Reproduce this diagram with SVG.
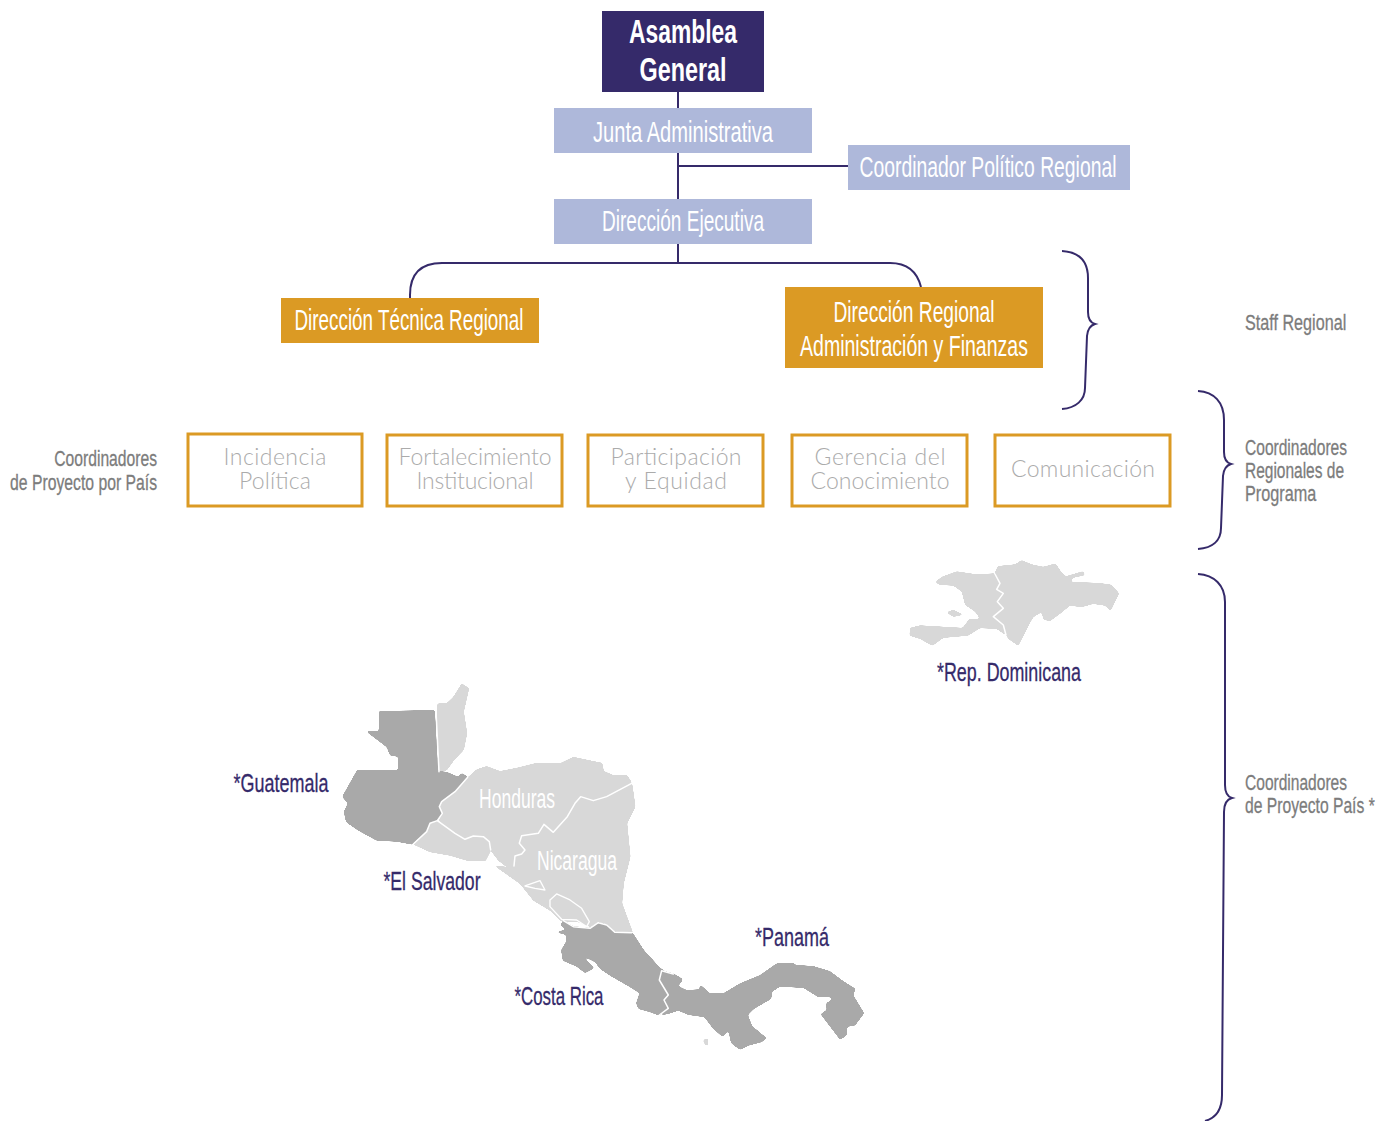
<svg xmlns="http://www.w3.org/2000/svg" width="1389" height="1121" viewBox="0 0 1389 1121">
<style>
text{font-family:"Liberation Sans",Arial,sans-serif;text-anchor:middle}
.con{fill:none;stroke:#352a6a;stroke-width:2}
.w{fill:#fff;font-size:30px}
.b{font-weight:700;font-size:33px}
.m{font-size:27px}
.g{fill:#7c7c7c;stroke:#7c7c7c;stroke-width:.3;font-size:22px}
.l{text-anchor:start}
.e{text-anchor:end}
.c{fill:#352a6a;stroke:#352a6a;stroke-width:.3;font-size:26px}
.p{fill:#ababab;font-size:23px;font-weight:300;font-family:Lato,sans-serif}
.box{fill:#fff;stroke:#db9a24;stroke-width:3}
.dk{filter:url(#fd)}
.lt{filter:url(#fl)}
.lake{fill:#d8d8d8;stroke:#fff;stroke-width:4;stroke-linejoin:round}
.line{fill:none;stroke:#fff;stroke-width:4.5;stroke-linejoin:round;stroke-linecap:round}
</style>
<defs>
<filter id="fd" x="-5%" y="-5%" width="110%" height="110%" color-interpolation-filters="sRGB"><feGaussianBlur in="SourceAlpha" stdDeviation="3"/><feComponentTransfer result="a"><feFuncA type="linear" slope="12" intercept="-5.5"/></feComponentTransfer><feFlood flood-color="#a9a9a9"/><feComposite in2="a" operator="in"/></filter>
<filter id="fl" x="-5%" y="-5%" width="110%" height="110%" color-interpolation-filters="sRGB"><feGaussianBlur in="SourceAlpha" stdDeviation="3"/><feComponentTransfer result="a"><feFuncA type="linear" slope="12" intercept="-5.5"/></feComponentTransfer><feFlood flood-color="#d8d8d8"/><feComposite in2="a" operator="in"/></filter>
</defs>
<g id="connectors" class="con">
<path d="M678 92V263M678 166H848"/>
<path d="M410 298V295Q410 263 442 263H890Q915 263 921 287"/>
<path d="M1062 251C1078 252 1088 260 1088 278V312Q1088 322 1095 324Q1088 326 1087 336L1085 388C1085 400 1076 408 1062 409"/>
<path d="M1198 391C1214 392 1224 402 1224 420V452Q1224 462 1231 464Q1224 466 1223 476L1221 528C1221 541 1212 548 1198 549"/>
<path d="M1198 574C1214 575 1225 585 1225 602V785Q1225 796 1232 798Q1224 800 1224 812L1222 1095C1222 1110 1216 1118 1205 1121"/>
</g>
<g id="asamblea"><rect x="602" y="11" width="162" height="81" fill="#352a6a"/>
<text x="683" y="43" class="w b" textLength="108" lengthAdjust="spacingAndGlyphs">Asamblea</text>
<text x="683" y="81" class="w b" textLength="87" lengthAdjust="spacingAndGlyphs">General</text></g>
<g id="junta"><rect x="554" y="108" width="258" height="45" fill="#aeb8da"/>
<text x="683" y="142" class="w" textLength="180" lengthAdjust="spacingAndGlyphs">Junta Administrativa</text></g>
<g id="coordinador"><rect x="848" y="145" width="282" height="45" fill="#aeb8da"/>
<text x="988" y="177" class="w" textLength="257" lengthAdjust="spacingAndGlyphs">Coordinador Político Regional</text></g>
<g id="direccion-ejecutiva"><rect x="554" y="199" width="258" height="45" fill="#aeb8da"/>
<text x="683" y="231" class="w" textLength="162" lengthAdjust="spacingAndGlyphs">Dirección Ejecutiva</text></g>
<g id="direccion-tecnica"><rect x="281" y="298" width="258" height="45" fill="#db9a24"/>
<text x="409" y="330" class="w" textLength="229" lengthAdjust="spacingAndGlyphs">Dirección Técnica Regional</text></g>
<g id="direccion-regional"><rect x="785" y="287" width="258" height="81" fill="#db9a24"/>
<text x="914" y="322" class="w" textLength="161" lengthAdjust="spacingAndGlyphs">Dirección Regional</text>
<text x="914" y="356" class="w" textLength="228" lengthAdjust="spacingAndGlyphs">Administración y Finanzas</text></g>
<g id="incidencia"><rect x="188" y="434" width="174" height="72" class="box"/>
<text x="275" y="465" class="p" textLength="103">Incidencia</text><text x="275" y="489" class="p" textLength="72">Política</text></g>
<g id="fortalecimiento"><rect x="387" y="435" width="175" height="71" class="box"/>
<text x="475" y="465" class="p" textLength="153">Fortalecimiento</text><text x="475" y="489" class="p" textLength="117">Institucional</text></g>
<g id="participacion"><rect x="588" y="435" width="175" height="71" class="box"/>
<text x="676" y="465" class="p" textLength="131">Participación</text><text x="676" y="489" class="p" textLength="102">y Equidad</text></g>
<g id="gerencia"><rect x="792" y="435" width="175" height="71" class="box"/>
<text x="880" y="465" class="p" textLength="131">Gerencia del</text><text x="880" y="489" class="p" textLength="139">Conocimiento</text></g>
<g id="comunicacion"><rect x="995" y="435" width="175" height="71" class="box"/>
<text x="1083" y="477" class="p" textLength="144">Comunicación</text></g>
<g id="labels">
<text transform="translate(1245 330) scale(.75 1)" class="g l" textLength="135" lengthAdjust="spacingAndGlyphs">Staff Regional</text>
<text transform="translate(1245 455) scale(.75 1)" class="g l" textLength="136" lengthAdjust="spacingAndGlyphs">Coordinadores</text>
<text transform="translate(1245 478) scale(.75 1)" class="g l" textLength="132" lengthAdjust="spacingAndGlyphs">Regionales de</text>
<text transform="translate(1245 501) scale(.75 1)" class="g l" textLength="95" lengthAdjust="spacingAndGlyphs">Programa</text>
<text transform="translate(1245 790) scale(.75 1)" class="g l" textLength="136" lengthAdjust="spacingAndGlyphs">Coordinadores</text>
<text transform="translate(1245 813) scale(.75 1)" class="g l" textLength="173" lengthAdjust="spacingAndGlyphs">de Proyecto País *</text>
<text transform="translate(157 466) scale(.75 1)" class="g e" textLength="137" lengthAdjust="spacingAndGlyphs">Coordinadores</text>
<text transform="translate(157 490) scale(.75 1)" class="g e" textLength="196" lengthAdjust="spacingAndGlyphs">de Proyecto por País</text>
</g>
<g id="map-dominicana" transform="translate(900 550) scale(.3333)">
<path class="lt" d="M105 97L125 80L170 64L230 73L285 70L300 100L290 118L310 130L292 155L310 175L280 200L310 225L320 258L290 237L240 235L205 257L130 264L97 288L60 267L28 257L30 233L60 226L188 233L208 206L240 206L225 185L195 165L185 125L160 107L120 105Z"/>
<path class="lt" d="M138 187L160 179L192 194L160 201Z"/>
<path class="lt" d="M283 72L293 48L345 43L365 30L395 43L430 50L467 40L482 63L497 79L550 63L556 76L518 84L512 95L590 98L632 103L658 130L632 184L615 167L580 162L545 172L510 167L480 192L450 214L430 209L425 187L400 202L387 225L355 288L325 267L318 255L310 225L280 200L310 175L292 155L310 130L290 118L300 100Z"/>
<path class="line" d="M285 72L300 100L290 118L310 130L292 155L310 175L280 200L310 225L318 255"/>
</g>
<g id="map-centro" transform="translate(330 670) scale(.3333)">
<path class="lt" d="M322 100L350 100L370 80L395 40L418 55L402 125L412 190L402 240L375 268L350 302L325 305L320 125Z"/>
<path class="dk" d="M146 123L315 120L325 303L350 305L385 320L395 308L416 322L375 365L335 395L328 410L337 430L322 452L300 460L290 485L248 524L200 515L140 512L85 482L48 457L41 425L53 400L36 380L81 300L204 300L204 260L180 257L170 232L106 183L146 183Z"/>
<path class="lt" d="M413 322L440 298L470 288L510 303L560 293L620 278L690 280L730 260L790 273L817 278L822 303L850 315L892 315L907 340L830 380L790 392L752 380L735 400L712 440L670 487L642 463L625 490L575 497L568 520L585 540L575 552L555 558L552 590L530 592L505 572L482 542L478 515L460 500L430 498L405 508L375 490L325 452L337 430L328 410L335 395L375 365Z"/>
<path class="lt" d="M246 522L290 485L300 460L322 452L375 490L405 508L430 498L460 500L478 515L484 540L467 574L410 572L360 557L300 547Z"/>
<path class="lt" d="M907 340L917 410L892 460L902 560L882 640L877 700L910 790L860 790L810 763L780 771L740 755L695 755L660 722L610 692L570 642L490 586L530 590L552 588L555 558L575 552L585 540L568 520L575 497L625 490L642 463L670 487L712 440L735 400L752 380L790 392L830 380Z"/>
<path class="lake" d="M585 648L630 632L645 660L615 655Z"/>
<path class="lake" d="M660 690L680 672L720 690L755 715L778 755L770 770L740 750L695 748L660 710Z"/>
<path class="line" d="M250 522L290 485L300 460L322 452L337 430L328 410L335 395L375 365L413 322"/>
<path class="line" d="M322 452L375 490L405 508L430 498L460 500L478 515L482 540"/>
<path class="line" d="M905 340L830 380L790 392L752 380L735 400L712 440L670 487L642 463L625 490L575 497L568 520L585 540L575 552L555 558L552 588"/>
<path class="line" d="M318 122L327 305"/>
</g>
<g id="map-sur" transform="translate(540 900) scale(.3333)">
<path class="dk" d="M70 60L100 78L150 83L175 66L200 73L225 95L277 96L312 150L362 205L402 222L365 212L358 240L385 285L372 300L385 325L358 347L330 337L295 327L288 310L298 280L270 262L210 227L180 207L165 187L128 168L164 205L135 220L110 200L68 182L63 150L78 125L78 105L47 97L78 88L60 76Z"/>
<path class="dk" d="M365 210L400 220L430 238L415 258L440 270L478 268L480 253L510 280L550 280L600 250L660 225L710 190L762 188L765 194L820 198L870 213L910 243L947 266L940 285L973 340L945 377L922 380L920 407L900 419L841 342L860 330L858 310L878 297L865 290L835 292L790 264L720 260L697 275L694 297L642 327L624 345L637 378L681 415L665 427L625 437L600 450L573 430L565 392L548 412L518 385L493 352L445 345L415 332L385 342L358 347L385 325L372 300L385 285L358 240Z"/>
<path class="line" d="M400 222L365 212L358 240L385 285L372 300L385 325L358 345"/>
<path class="line" d="M70 62L100 80L150 85L175 68L200 75L225 97L275 98"/>
<path class="lt" d="M488 420L507 413L502 428L510 440L495 434Z"/>
</g>
<g id="map-labels">
<text x="517" y="808" class="w m" textLength="76" lengthAdjust="spacingAndGlyphs">Honduras</text>
<text x="577" y="870" class="w m" textLength="80" lengthAdjust="spacingAndGlyphs">Nicaragua</text>
<text x="281" y="792" class="c" textLength="95" lengthAdjust="spacingAndGlyphs">*Guatemala</text>
<text x="432" y="890" class="c" textLength="97" lengthAdjust="spacingAndGlyphs">*El Salvador</text>
<text x="559" y="1005" class="c" textLength="89" lengthAdjust="spacingAndGlyphs">*Costa Rica</text>
<text x="792" y="946" class="c" textLength="74" lengthAdjust="spacingAndGlyphs">*Panamá</text>
<text x="1009" y="681" class="c" textLength="144" lengthAdjust="spacingAndGlyphs">*Rep. Dominicana</text>
</g>
</svg>
